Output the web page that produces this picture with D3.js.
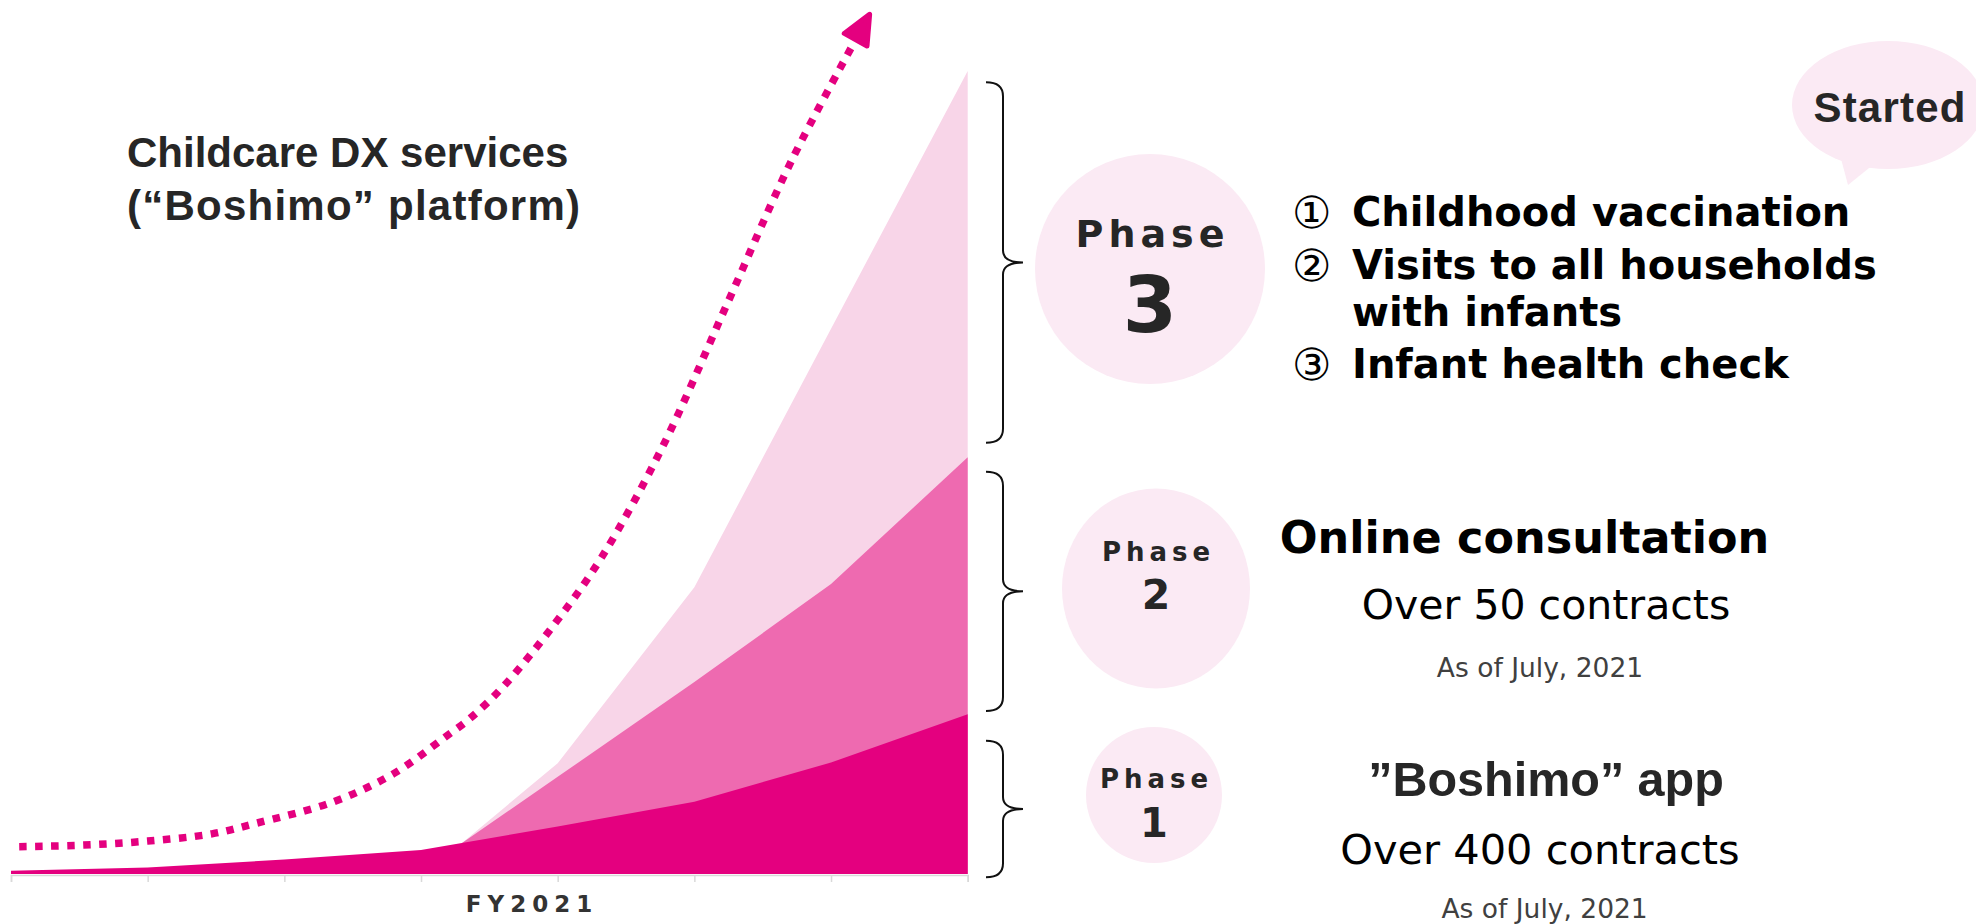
<!DOCTYPE html>
<html>
<head>
<meta charset="utf-8">
<script src="https://cdn.jsdelivr.net/npm/d3@7"></script>
<style>
  html, body { margin: 0; padding: 0; background: #ffffff; }
  svg { display: block; }
</style>
</head>
<body>
<svg id="chart" width="1976" height="924"></svg>
<script>
// ---------------- DATA ----------------
const periods = [0, 1, 2, 3, 4, 5, 6, 7];
const phase1Top = [0.4, 0.8, 1.8, 3.0, 5.9, 9.0, 13.9, 19.9];          // "Boshimo" app layer
const laterPeriods = [3.3, 4, 5, 6, 7];
const phase2Top = [3.87, 12.1, 23.9, 36.1, 51.9];                      // cumulative top, Online consultation
const phase3Top = [3.87, 13.8, 35.7, 67.9, 100];                       // cumulative top, Phase 3 services
const trendPeriods = [0.06, 0.53, 1.0, 1.47, 1.79, 2.36, 2.80, 3.18, 3.36, 3.61, 3.98, 4.32, 4.77, 5.24, 5.71, 6.18];
const trendValues  = [3.4, 3.6, 4.1, 5.0, 6.3, 9.0, 12.5, 17.1, 19.4, 23.5, 31.2, 39.4, 53.3, 71.0, 88.8, 103.9];
const axisLabel = "FY2021";
const axisLabelAt = 3.79;
const bracketSpans = [[-0.4, 16.6], [20.3, 50.1], [53.7, 98.6]];      // phase 1, 2, 3
const titleLines = ["Childcare DX services", "(“Boshimo” platform)"];
const phaseNames = ["1", "2", "3"];
const phase3Items = [["①", "Childhood vaccination"], ["②", "Visits to all households"], ["", "with infants"], ["③", "Infant health check"]];
const phase2Lines = ["Online consultation", "Over 50 contracts", "As of July, 2021"];
const phase1Lines = ["”Boshimo” app", "Over 400 contracts", "As of July, 2021"];
const bubbleText = "Started";

// ---------------- STYLE ----------------
const C_DARK = "#E4007F", C_MID = "#EE6AB0", C_LIGHT = "#F8D5E8", C_BUBBLE = "#FBEAF4";
const SANS = "'Liberation Sans', Arial, sans-serif";
const VERD = "'DejaVu Sans', Verdana, sans-serif";

const svg = d3.select("#chart");
svg.append("rect").attr("width", 1976).attr("height", 924).attr("fill", "#fff");

const x = d3.scaleLinear().domain([0, 7]).range([11, 967.7]);
const y = d3.scaleLinear().domain([0, 100]).range([874, 71]);

// ---------------- AREAS ----------------
const area = d3.area().x(d => x(d[0])).y0(y(0)).y1(d => y(d[1]));
svg.append("path").datum(d3.zip(laterPeriods, phase3Top)).attr("d", area).attr("fill", C_LIGHT);
svg.append("path").datum(d3.zip(laterPeriods, phase2Top)).attr("d", area).attr("fill", C_MID);
svg.append("path").datum(d3.zip(periods, phase1Top)).attr("d", area).attr("fill", C_DARK);

// ---------------- AXIS ----------------
const axis = d3.axisBottom(x).tickValues(periods).tickSize(7).tickSizeOuter(7).tickFormat("");
const gAxis = svg.append("g").attr("transform", `translate(0,${y(0) + 1})`).call(axis);
gAxis.selectAll("path, line").attr("stroke", "#D9D9D9").attr("stroke-width", 1.5);

svg.append("text").text(axisLabel)
  .attr("x", x(axisLabelAt) + 3).attr("y", 911.5)
  .attr("text-anchor", "middle").attr("font-family", VERD).attr("font-weight", "bold")
  .attr("font-size", 23).attr("letter-spacing", 6).attr("fill", "#333");

// ---------------- TREND ARROW ----------------
const defs = svg.append("defs");
defs.append("marker").attr("id", "head")
  .attr("markerUnits", "userSpaceOnUse").attr("viewBox", "-6 -22 44 44")
  .attr("markerWidth", 44).attr("markerHeight", 44).attr("refX", 0).attr("refY", 0)
  .attr("orient", "auto")
  .append("path").attr("d", "M0,-13 L29,0 L0,13 Z")
  .attr("fill", C_DARK).attr("stroke", C_DARK).attr("stroke-width", 5).attr("stroke-linejoin", "round");

const trendLine = d3.line().x(d => x(d[0])).y(d => y(d[1])).curve(d3.curveCatmullRom.alpha(0.5));
svg.append("path").datum(d3.zip(trendPeriods, trendValues)).attr("d", trendLine)
  .attr("fill", "none").attr("stroke", C_DARK).attr("stroke-width", 7.5)
  .attr("stroke-dasharray", "7.5 8.5").attr("marker-end", "url(#head)");

// ---------------- TITLE ----------------
titleLines.forEach((t, i) => {
  const tx = svg.append("text").text(t).attr("x", 127).attr("y", 167.3 + i * 52.7)
    .attr("font-family", SANS).attr("font-weight", "bold").attr("font-size", 42).attr("fill", "#262626");
  if (i === 1) tx.attr("textLength", 453).attr("lengthAdjust", "spacing");
});

// ---------------- BRACES ----------------
const bx = 1003;
bracketSpans.forEach(([lo, hi]) => {
  const y0 = y(hi), y1 = y(lo), ym = (y0 + y1) / 2;
  const p = `M${bx - 17},${y0} Q${bx},${y0} ${bx},${y0 + 14} L${bx},${ym - 12} Q${bx},${ym} ${bx + 20},${ym} ` +
            `Q${bx},${ym} ${bx},${ym + 12} L${bx},${y1 - 14} Q${bx},${y1} ${bx - 17},${y1}`;
  svg.append("path").attr("d", p).attr("fill", "none").attr("stroke", "#111").attr("stroke-width", 2);
});

// ---------------- PHASE BADGES ----------------
const badges = [
  { cx: 1154, cy: 795, rx: 68, ry: 68, ps: 26, pb: 788.3, ns: 40, nb: 836.7 },
  { cx: 1156, cy: 588.5, rx: 94, ry: 100, ps: 26, pb: 560.7, ns: 41, nb: 609.3 },
  { cx: 1150, cy: 269, rx: 115, ry: 115, ps: 38, pb: 247.3, ns: 78, nb: 331.7 }
];
badges.forEach((b, i) => {
  svg.append("ellipse").attr("cx", b.cx).attr("cy", b.cy).attr("rx", b.rx).attr("ry", b.ry).attr("fill", C_BUBBLE);
  svg.append("text").text("Phase").attr("x", b.cx + 2.5).attr("y", b.pb).attr("text-anchor", "middle")
    .attr("font-family", VERD).attr("font-weight", "bold").attr("font-size", b.ps).attr("letter-spacing", 5).attr("fill", "#262626");
  svg.append("text").text(phaseNames[i]).attr("x", b.cx).attr("y", b.nb).attr("text-anchor", "middle")
    .attr("font-family", VERD).attr("font-weight", "bold").attr("font-size", b.ns).attr("fill", "#262626");
});

// ---------------- STARTED BUBBLE ----------------
svg.append("ellipse").attr("cx", 1888).attr("cy", 105).attr("rx", 96).attr("ry", 64).attr("fill", C_BUBBLE);
svg.append("path").attr("d", "M1840,155 L1848,185 L1874,164 Z").attr("fill", C_BUBBLE);
svg.append("text").text(bubbleText).attr("x", 1890).attr("y", 121.7).attr("text-anchor", "middle")
  .attr("font-family", SANS).attr("font-weight", "bold").attr("font-size", 42).attr("letter-spacing", 1.2).attr("fill", "#262626");

// ---------------- PHASE 3 LIST ----------------
const listY = [226, 279, 326, 378];
phase3Items.forEach(([num, txt], i) => {
  if (num) svg.append("text").text(num).attr("x", 1292).attr("y", listY[i] + 2)
    .attr("font-family", VERD).attr("font-weight", "normal").attr("font-size", 44).attr("fill", "#000");
  svg.append("text").text(txt).attr("x", 1352).attr("y", listY[i])
    .attr("font-family", VERD).attr("font-weight", "bold").attr("font-size", 40).attr("fill", "#000");
});

// ---------------- PHASE 2 / 1 TEXT ----------------
const p2 = [
  { cx: 1524.5, by: 553.3, fs: 44.5, fw: "bold", fam: VERD, fill: "#000" },
  { cx: 1546, by: 619.3, fs: 41, fw: "normal", fam: VERD, fill: "#000" },
  { cx: 1540, by: 677.3, fs: 26.5, fw: "normal", fam: VERD, fill: "#404040" }
];
const p1 = [
  { cx: 1546, by: 796, fs: 48.5, fw: "bold", fam: SANS, fill: "#262626" },
  { cx: 1540, by: 864.3, fs: 41.5, fw: "normal", fam: VERD, fill: "#000" },
  { cx: 1544.6, by: 918.3, fs: 26.5, fw: "normal", fam: VERD, fill: "#404040" }
];
[[phase2Lines, p2], [phase1Lines, p1]].forEach(([lines, st]) => {
  lines.forEach((t, i) => {
    const s = st[i];
    svg.append("text").text(t).attr("x", s.cx).attr("y", s.by).attr("text-anchor", "middle")
      .attr("font-family", s.fam).attr("font-weight", s.fw).attr("font-size", s.fs).attr("fill", s.fill);
  });
});
</script>
</body>
</html>
